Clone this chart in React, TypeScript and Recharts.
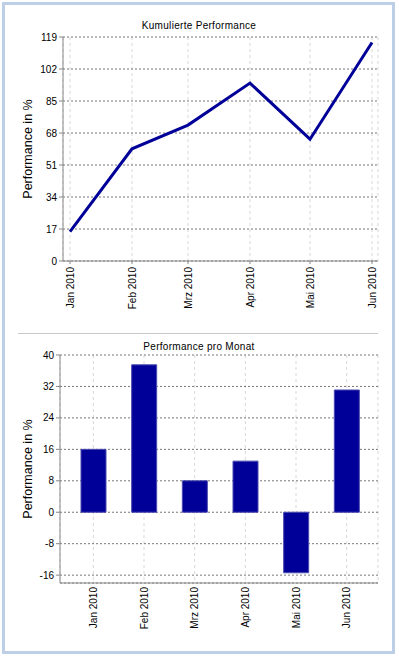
import React from 'react';
import { Bar, BarChart, CartesianGrid, Line, LineChart, XAxis, YAxis } from 'recharts';

const months = ['Jan 2010', 'Feb 2010', 'Mrz 2010', 'Apr 2010', 'Mai 2010', 'Jun 2010'];
const cumulative = [15.6, 59.6, 72.2, 94.5, 64.7, 116.1];
const monthly = [16.0, 37.5, 8.0, 13.0, -15.4, 31.1];
const cumulativeTicks = [0, 17, 34, 51, 68, 85, 102, 119];
const monthlyTicks = [-16, -8, 0, 8, 16, 24, 32, 40];

const DAY = 24 * 3600 * 1000;
const monthStarts = months.map((_, i) => Date.UTC(2010, i, 1));

const lineData = months.map((m, i) => ({ t: monthStarts[i], label: m, value: cumulative[i] }));
const barData = months.map((m, i) => ({ label: m, value: monthly[i] }));

const FONT = '"Liberation Sans", Arial, sans-serif';
const NAVY = '#000099';
const AXIS = '#888888';

const labelFor = (t: number) => months[monthStarts.indexOf(t)] ?? '';

function MonthTick(props: any) {
  const { x, y, payload, format } = props;
  const text = format ? format(payload.value) : payload.value;
  return (
    <text
      x={x}
      y={y}
      transform={`rotate(-90 ${x} ${y})`}
      textAnchor="end"
      dominantBaseline="central"
      fontSize={10}
      fontFamily={FONT}
      fill="#000"
    >
      {text}
    </text>
  );
}

function yLabel(offset: number) {
  return {
    value: 'Performance in %',
    content: (p: any) => {
      const vb = p.viewBox;
      const x = vb.x + offset;
      const y = vb.y + vb.height / 2;
      return (
        <text
          x={x}
          y={y}
          transform={`rotate(-90 ${x} ${y})`}
          textAnchor="middle"
          dominantBaseline="central"
          fontSize={12.5}
          fontFamily={FONT}
          fill="#000"
        >
          Performance in %
        </text>
      );
    },
  };
}

function Title({ text, y }: { text: string; y: number }) {
  return (
    <text x={199} y={y} textAnchor="middle" fontSize={10} letterSpacing={0.3} fontFamily={FONT} fill="#000">
      {text}
    </text>
  );
}

const yTick = { fontSize: 10, fontFamily: FONT, fill: '#000' };

export default function App() {
  return (
    <div style={{ position: 'absolute', left: 0, top: 0, width: 399, height: 657, background: '#fff' }}>
      <div
        style={{
          position: 'absolute',
          left: 2,
          top: 2,
          width: 393,
          height: 652,
          boxSizing: 'border-box',
          border: '3px solid #bccfe6',
        }}
      />
      <div style={{ position: 'absolute', left: 18, top: 333, width: 360, height: 1, background: '#c8c8c8' }} />

      <div style={{ position: 'absolute', left: 0, top: 0 }}>
        <LineChart width={399} height={330} data={lineData} margin={{ top: 37, right: 21, bottom: 9, left: 20 }}>
          <CartesianGrid horizontal={false} stroke="#d8d8d8" strokeDasharray="3 3" />
          <CartesianGrid vertical={false} stroke="#777" strokeDasharray="2 2" />
          <XAxis
            dataKey="t"
            type="number"
            scale="time"
            domain={[monthStarts[0] - 3.5 * DAY, monthStarts[5] + 3 * DAY]}
            ticks={monthStarts}
            interval={0}
            height={60}
            stroke={AXIS}
            tickSize={3}
            tickMargin={3}
            tick={<MonthTick format={labelFor} />}
          />
          <YAxis
            type="number"
            domain={[0, 119]}
            ticks={cumulativeTicks}
            interval={0}
            width={43}
            stroke={AXIS}
            tickSize={4}
            tickMargin={2}
            tick={yTick}
            label={yLabel(8)}
          />
          <Line
            type="linear"
            dataKey="value"
            stroke={NAVY}
            strokeWidth={3}
            dot={false}
            isAnimationActive={false}
          />
          <Title text="Kumulierte Performance" y={29} />
        </LineChart>
      </div>

      <div style={{ position: 'absolute', left: 0, top: 320 }}>
        <BarChart width={399} height={337} data={barData} margin={{ top: 35, right: 21, bottom: 14, left: 17 }}>
          <CartesianGrid horizontal={false} stroke="#d8d8d8" strokeDasharray="3 3" />
          <CartesianGrid vertical={false} stroke="#777" strokeDasharray="2 2" />
          <XAxis
            dataKey="label"
            interval={0}
            height={60}
            stroke={AXIS}
            tickLine={false}
            tickSize={2}
            tickMargin={2}
            padding={{ left: 8, right: 6 }}
            tick={<MonthTick />}
          />
          <YAxis
            type="number"
            domain={[-18, 40]}
            ticks={monthlyTicks}
            interval={0}
            width={43}
            stroke={AXIS}
            tickSize={4}
            tickMargin={2}
            tick={yTick}
            label={yLabel(11)}
          />
          <Bar dataKey="value" fill={NAVY} stroke="#4a4ab0" strokeWidth={1} barSize={25} isAnimationActive={false} />
          <Title text="Performance pro Monat" y={30} />
        </BarChart>
      </div>
    </div>
  );
}
